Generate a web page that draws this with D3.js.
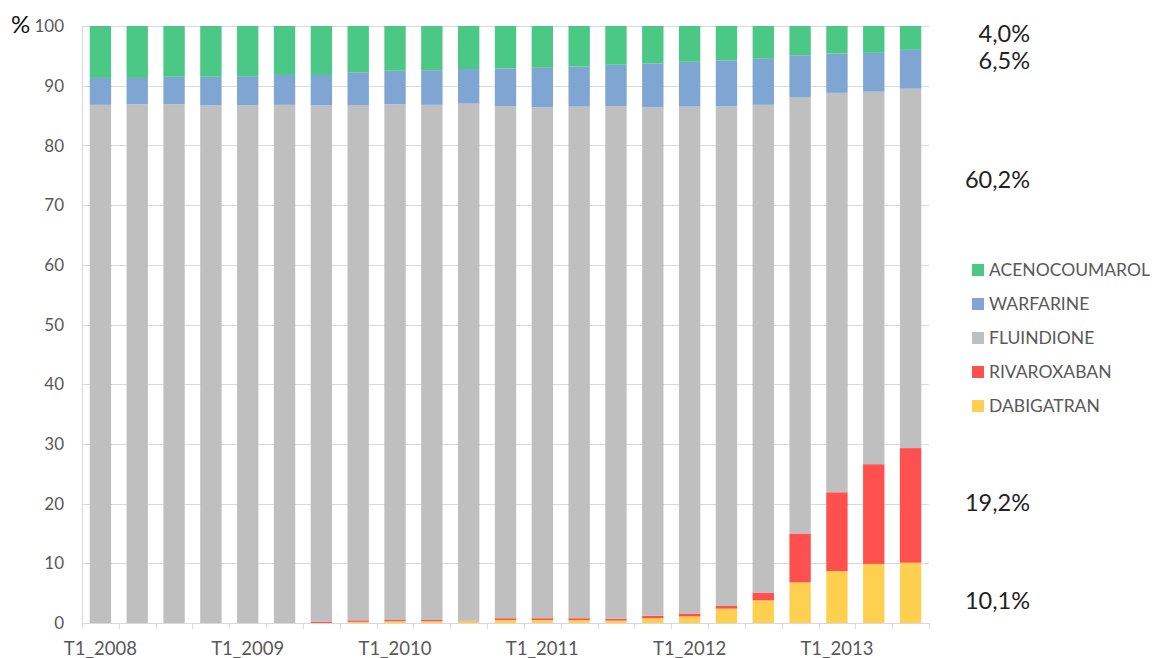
<!DOCTYPE html>
<html lang="fr">
<head>
<meta charset="utf-8">
<title>Anticoagulants oraux - parts trimestrielles</title>
<script src="https://d3js.org/d3.v7.min.js"></script>
<style>
  body { margin: 0; padding: 0; background: #fff; }
  svg { display: block; font-family: Lato, "Open Sans", sans-serif; }
  .grid line { stroke: #d9d9d9; stroke-width: 1; }
  .ylab { fill: #595959; font-size: 17px; }
  .xlab { fill: #595959; font-size: 18.5px; }
  .leg { fill: #595959; font-size: 17.5px; }
  .note { fill: #222; font-size: 23.5px; }
</style>
</head>
<body>
<script>
// trimestres T1 2008 .. T3 2013
var quarters = [];
for (var yr = 2008; yr <= 2013; yr++) {
  for (var q = 1; q <= 4; q++) {
    if (yr === 2013 && q === 4) break;
    quarters.push("T" + q + "_" + yr);
  }
}

// valeurs en %
var dabigatran   = [0,0,0,0,0,0,0,0.2,0.3,0.3,0.3,0.5,0.5,0.5,0.4,0.8,1.1,2.4,3.8,6.8,8.7,9.9,10.1];
var rivaroxaban  = [0,0,0,0,0,0,0.2,0.25,0.2,0.2,0.1,0.3,0.3,0.3,0.3,0.4,0.5,0.45,1.3,8.2,13.2,16.7,19.2];
var fluindione   = [86.8,86.9,86.9,86.7,86.7,86.8,86.5,86.3,86.4,86.3,86.6,85.8,85.6,85.7,85.9,85.2,84.9,83.7,81.7,73.1,66.9,62.4,60.2];
var warfarine    = [4.5,4.4,4.6,4.8,4.9,5.0,5.1,5.5,5.6,5.8,5.8,6.3,6.6,6.7,6.9,7.3,7.5,7.7,7.7,7.0,6.6,6.5,6.5];
var acenocoumarol= [8.7,8.7,8.5,8.5,8.4,8.2,8.2,7.8,7.5,7.4,7.2,7.1,7.0,6.8,6.5,6.3,6.0,5.8,5.5,4.9,4.6,4.5,4.0];

var seriesNames = ["DABIGATRAN", "RIVAROXABAN", "FLUINDIONE", "WARFARINE", "ACENOCOUMAROL"];
var seriesColors = ["#ffd050", "#ff5050", "#bfbfbf", "#7fa6d2", "#4cc886"];
var yTicks = [0,10,20,30,40,50,60,70,80,90,100];
var notes = ["4,0%", "6,5%", "60,2%", "19,2%", "10,1%"];
var noteY = [42, 69, 188, 511, 609];

var W = 1152, H = 658;
var mLeft = 82, mRight = 929, mTop = 26, mBottom = 623;

var svg = d3.select("body").append("svg")
    .attr("width", W)
    .attr("height", H);

// tableau pour d3.stack
var rows = quarters.map(function(k, i) {
  return {
    key: k,
    DABIGATRAN: dabigatran[i],
    RIVAROXABAN: rivaroxaban[i],
    FLUINDIONE: fluindione[i],
    WARFARINE: warfarine[i],
    ACENOCOUMAROL: acenocoumarol[i]
  };
});

var x = d3.scaleBand()
    .domain(quarters)
    .range([mLeft, mRight])
    .paddingInner(0.42)
    .paddingOuter(0.21);

var y = d3.scaleLinear()
    .domain([0, 100])
    .range([mBottom, mTop]);

var color = d3.scaleOrdinal().domain(seriesNames).range(seriesColors);

// grille
svg.append("g").attr("class", "grid")
  .selectAll("line")
  .data(yTicks.filter(function(d) { return d > 0; }))
  .enter().append("line")
    .attr("x1", mLeft).attr("x2", mRight)
    .attr("y1", function(d) { return Math.round(y(d)) + 0.5; })
    .attr("y2", function(d) { return Math.round(y(d)) + 0.5; });

// axe vertical (ligne)
svg.append("line")
  .attr("x1", mLeft + 0.5).attr("x2", mLeft + 0.5)
  .attr("y1", mTop).attr("y2", mBottom)
  .attr("stroke", "#d9d9d9");

// barres
var stack = d3.stack().keys(seriesNames);
var layers = stack(rows);

svg.append("g").selectAll("g")
  .data(layers)
  .enter().append("g")
    .attr("fill", function(d) { return color(d.key); })
  .selectAll("rect")
  .data(function(d) { return d; })
  .enter().append("rect")
    .attr("x", function(d) { return x(d.data.key); })
    .attr("width", x.bandwidth())
    .attr("y", function(d) { return y(Math.min(d[1], 100)); })
    .attr("height", function(d) { return Math.max(0, y(d[0]) - y(Math.min(d[1], 100))); });

// axe horizontal + graduations entre catégories
svg.append("line")
  .attr("x1", mLeft).attr("x2", mRight)
  .attr("y1", mBottom + 0.5).attr("y2", mBottom + 0.5)
  .attr("stroke", "#d9d9d9");

var boundaries = quarters.map(function(k) { return x(k) - x.step() * x.paddingInner() / 2; });
boundaries.push(mRight);
svg.append("g").selectAll("line")
  .data(boundaries)
  .enter().append("line")
    .attr("x1", function(d) { return Math.round(d) + 0.5; })
    .attr("x2", function(d) { return Math.round(d) + 0.5; })
    .attr("y1", mBottom).attr("y2", mBottom + 6)
    .attr("stroke", "#d9d9d9");

// étiquettes axe Y
svg.append("g").selectAll("text")
  .data(yTicks)
  .enter().append("text")
    .attr("class", "ylab")
    .attr("x", 64)
    .attr("y", function(d) { return y(d); })
    .attr("dy", "0.36em")
    .attr("text-anchor", "end")
    .text(function(d) { return d; });

svg.append("text")
  .attr("x", 11).attr("y", 33)
  .attr("fill", "#111")
  .style("font-size", "24px")
  .text("%");

// étiquettes axe X (seulement T1)
svg.append("g").selectAll("text")
  .data(quarters.filter(function(k) { return k.indexOf("T1") === 0; }))
  .enter().append("text")
    .attr("class", "xlab")
    .attr("x", function(k) { return x(k) + x.bandwidth() / 2; })
    .attr("y", 655)
    .attr("text-anchor", "middle")
    .text(function(k) { return k; });

// légende
var legendOrder = seriesNames.slice().reverse();
var leg = svg.append("g").selectAll("g")
  .data(legendOrder)
  .enter().append("g")
    .attr("transform", function(d, i) { return "translate(972," + (264 + i * 34) + ")"; });
leg.append("rect")
  .attr("width", 12).attr("height", 12)
  .attr("fill", function(d) { return color(d); });
leg.append("text")
  .attr("class", "leg")
  .attr("x", 17).attr("y", 6)
  .attr("dy", "0.36em")
  .text(function(d) { return d; });

// annotations à droite
svg.append("g").selectAll("text")
  .data(notes)
  .enter().append("text")
    .attr("class", "note")
    .attr("x", 1030)
    .attr("y", function(d, i) { return noteY[i]; })
    .attr("text-anchor", "end")
    .text(function(d) { return d; });
</script>
</body>
</html>
